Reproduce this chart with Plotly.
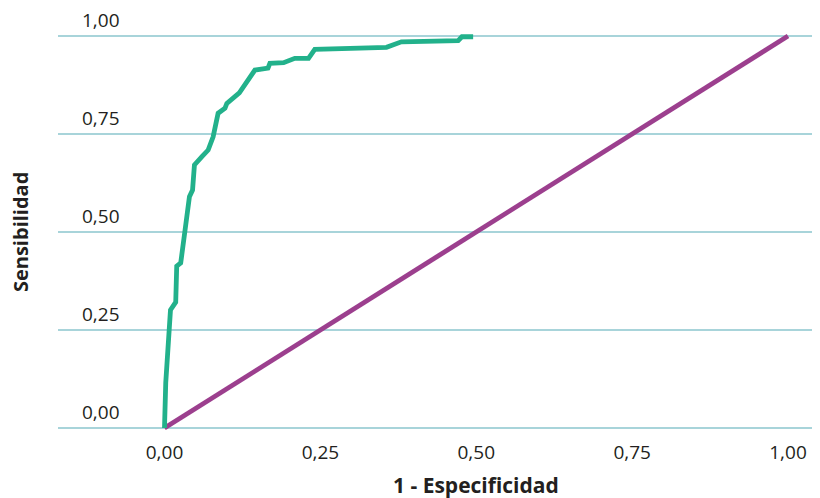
import plotly.graph_objects as go

# ROC curve (1 - specificity, sensitivity)
roc_fpr = [0.0, 0.002, 0.0096, 0.018, 0.0196, 0.026, 0.033, 0.040, 0.045, 0.048,
           0.060, 0.070, 0.078, 0.081, 0.086, 0.097, 0.100, 0.120, 0.145, 0.166,
           0.169, 0.191, 0.209, 0.231, 0.241, 0.356, 0.380, 0.471, 0.477, 0.495]
roc_tpr = [0.0, 0.115, 0.301, 0.321, 0.413, 0.421, 0.505, 0.590, 0.607, 0.671,
           0.692, 0.709, 0.743, 0.769, 0.803, 0.816, 0.828, 0.855, 0.913, 0.918,
           0.930, 0.932, 0.943, 0.943, 0.966, 0.971, 0.985, 0.988, 0.998, 0.998]
ref_x = [0.0, 1.0]
ref_y = [0.0, 1.0]

tick_vals = [0.0, 0.25, 0.5, 0.75, 1.0]
tick_text = ["0,00", "0,25", "0,50", "0,75", "1,00"]

FONT = "'Open Sans', Lato, sans-serif"
TXT = "#231f20"
GRID = "#a8d4da"

fig = go.Figure()
fig.add_trace(go.Scatter(x=ref_x, y=ref_y, mode="lines",
                         line=dict(color="#9c3f8e", width=4.8), showlegend=False))
fig.add_trace(go.Scatter(x=roc_fpr, y=roc_tpr, mode="lines",
                         line=dict(color="#22b18b", width=4.8), showlegend=False))

fig.update_layout(
    width=820, height=498,
    margin=dict(l=50, r=8, t=0, b=72),
    plot_bgcolor="white", paper_bgcolor="white",
    font=dict(family=FONT, size=19, color=TXT),
    xaxis=dict(range=[-0.1708, 1.0513], tickvals=tick_vals, ticktext=tick_text,
               showgrid=False, zeroline=False, showline=False, ticks="",
               automargin=False, ticklabelstandoff=5,
               tickfont=dict(size=19, color=TXT)),
    yaxis=dict(range=[-0.0153, 1.0714], tickvals=tick_vals, ticktext=tick_text,
               showgrid=True, gridcolor=GRID, gridwidth=1.5,
               zeroline=False, showline=False, ticks="", automargin=False,
               ticklabelposition="inside", ticklabelstandoff=21, ticklabelshift=-16,
               ticklabeloverflow="allow",
               tickfont=dict(size=19, color=TXT)),
    annotations=[
        dict(text="<b>Sensibilidad</b>", xref="paper", yref="paper",
             x=-0.0499, y=0.474, textangle=-90, showarrow=False,
             font=dict(size=20, color=TXT), xanchor="center", yanchor="middle"),
        dict(text="<b>1 - Especificidad</b>", xref="x", yref="paper",
             x=0.5, y=-0.1197, showarrow=False,
             font=dict(size=21, color=TXT), xanchor="center", yanchor="middle"),
    ],
)

fig.write_html("out.html")
